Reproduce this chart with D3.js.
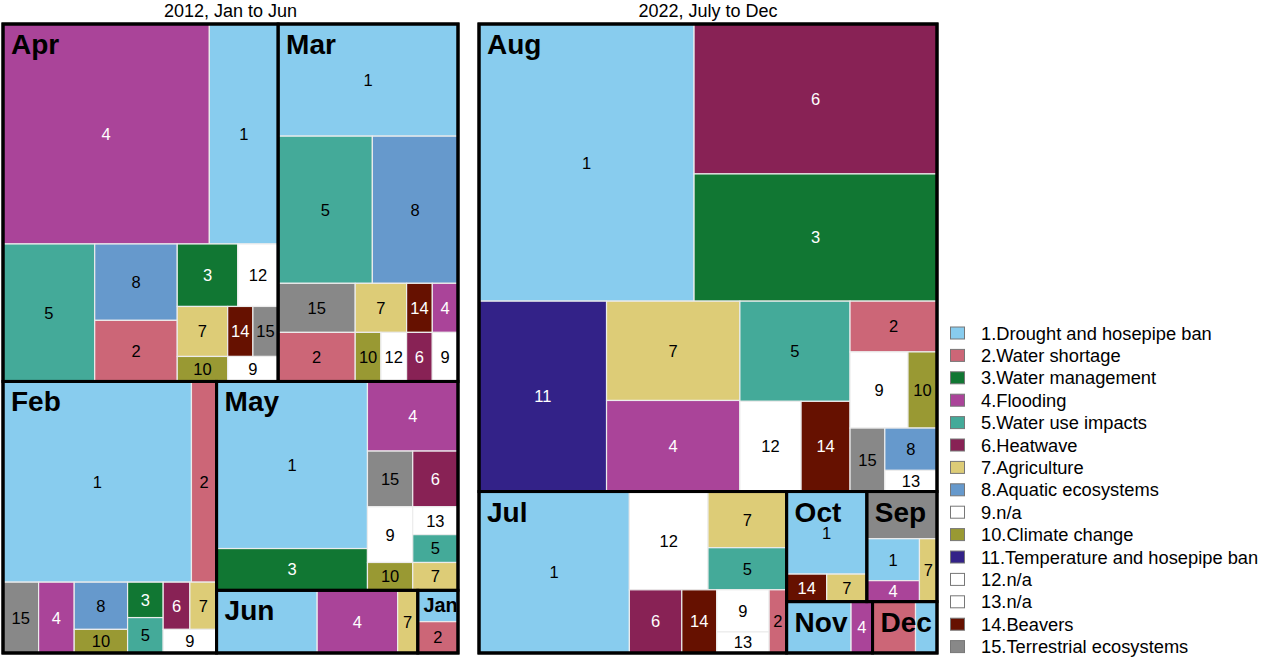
<!DOCTYPE html>
<html>
<head>
<meta charset="utf-8">
<script src="https://cdn.jsdelivr.net/npm/d3@7"></script>
<style>
  body { margin: 0; background: #fff; }
  svg { font-family: "Liberation Sans", Arial, sans-serif; }
</style>
</head>
<body>
<div id="chart"></div>
<script>
const categoryNames = [
  "Drought and hosepipe ban", "Water shortage", "Water management", "Flooding",
  "Water use impacts", "Heatwave", "Agriculture", "Aquatic ecosystems", "n/a",
  "Climate change", "Temperature and hosepipe ban", "n/a", "n/a", "Beavers",
  "Terrestrial ecosystems"
];
const categoryColors = [
  "#88CCEE", "#CC6677", "#117733", "#AA4499", "#44AA99", "#882255", "#DDCC77",
  "#6699CC", "#FFFFFF", "#999933", "#332288", "#FFFFFF", "#FFFFFF", "#661100", "#888888"
];
const darkCategories = [3, 4, 6, 11, 14];
const panelTitles = ["2012, Jan to Jun", "2022, July to Dec"];

// [month, category, count]
const rows2012 = [
  ["Jan", 1, 1], ["Jan", 2, 1],
  ["Feb", 1, 30], ["Feb", 2, 4], ["Feb", 15, 2], ["Feb", 4, 2], ["Feb", 8, 2], ["Feb", 10, 1],
  ["Feb", 3, 1], ["Feb", 5, 1], ["Feb", 6, 1], ["Feb", 7, 1], ["Feb", 9, 1],
  ["Mar", 1, 16], ["Mar", 5, 11], ["Mar", 8, 10], ["Mar", 15, 3], ["Mar", 2, 3], ["Mar", 7, 2],
  ["Mar", 10, 1], ["Mar", 12, 1], ["Mar", 14, 1], ["Mar", 4, 1], ["Mar", 6, 1], ["Mar", 9, 1],
  ["Apr", 4, 36], ["Apr", 1, 12], ["Apr", 5, 10], ["Apr", 8, 5], ["Apr", 2, 4], ["Apr", 3, 3],
  ["Apr", 12, 2], ["Apr", 7, 2], ["Apr", 10, 1], ["Apr", 14, 1], ["Apr", 15, 1], ["Apr", 9, 1],
  ["May", 1, 20], ["May", 3, 5], ["May", 4, 5], ["May", 15, 2], ["May", 6, 2], ["May", 9, 2],
  ["May", 10, 1], ["May", 13, 1], ["May", 5, 1], ["May", 7, 1],
  ["Jun", 1, 5], ["Jun", 4, 4], ["Jun", 7, 1]
];
const rows2022 = [
  ["Jul", 1, 22], ["Jul", 12, 7], ["Jul", 7, 4], ["Jul", 5, 3], ["Jul", 6, 3], ["Jul", 14, 2],
  ["Jul", 9, 2], ["Jul", 13, 1], ["Jul", 2, 1],
  ["Aug", 1, 54], ["Aug", 6, 33], ["Aug", 3, 28], ["Aug", 11, 22], ["Aug", 7, 12], ["Aug", 4, 11],
  ["Aug", 5, 10], ["Aug", 12, 5], ["Aug", 14, 4], ["Aug", 2, 4], ["Aug", 9, 4], ["Aug", 10, 2],
  ["Aug", 15, 2], ["Aug", 8, 2], ["Aug", 13, 1],
  ["Sep", 15, 3], ["Sep", 1, 2], ["Sep", 4, 1], ["Sep", 7, 1],
  ["Oct", 1, 6], ["Oct", 14, 1], ["Oct", 7, 1],
  ["Nov", 1, 3], ["Nov", 4, 1],
  ["Dec", 2, 2], ["Dec", 1, 1]
];

const width = 1263, height = 658;
const panelTop = 24, panelH = 629;
const panels = [
  {title: panelTitles[0], rows: rows2012, x: 3, w: 455},
  {title: panelTitles[1], rows: rows2022, x: 479, w: 458}
];

const svg = d3.select("#chart").append("svg")
  .attr("width", width)
  .attr("height", height);

// pivot-by-size layout (largest item is the pivot, the rest split in two regions)
function pivotLayout(nodes, x0, y0, x1, y1) {
  const n = nodes.length;
  if (!n) return;
  if (n === 1) {
    Object.assign(nodes[0], {x0, y0, x1, y1});
    return;
  }
  const total = d3.sum(nodes, d => d.value);
  const w = x1 - x0, h = y1 - y0;
  const p = nodes[0], rest = nodes.slice(1);
  let best = 0, bestRatio = Infinity, acc = p.value;
  for (let k = 0; k <= rest.length; k++) {
    if (k > 0) acc += rest[k - 1].value;
    let pw, ph;
    if (w >= h) { pw = w * acc / total; ph = h * p.value / acc; }
    else { ph = h * acc / total; pw = w * p.value / acc; }
    const r = Math.max(pw / ph, ph / pw);
    if (r < bestRatio) { bestRatio = r; best = k; }
  }
  const l2 = rest.slice(0, best), l3 = rest.slice(best);
  const s = p.value + d3.sum(l2, d => d.value);
  if (w >= h) {
    const sw = w * s / total, ph = h * p.value / s;
    Object.assign(p, {x0, y0, x1: x0 + sw, y1: y0 + ph});
    pivotLayout(l2, x0, y0 + ph, x0 + sw, y1);
    pivotLayout(l3, x0 + sw, y0, x1, y1);
  } else {
    const sh = h * s / total, pw = w * p.value / s;
    Object.assign(p, {x0, y0, x1: x0 + pw, y1: y0 + sh});
    pivotLayout(l2, x0 + pw, y0, x1, y0 + sh);
    pivotLayout(l3, x0, y0 + sh, x1, y1);
  }
}
const pivotTile = (parent, x0, y0, x1, y1) => pivotLayout(parent.children, x0, y0, x1, y1);

function buildRoot(rows) {
  const grouped = d3.group(rows, d => d[0]);
  const data = {
    name: "root",
    children: Array.from(grouped, ([m, items]) => ({
      name: m,
      children: items.map(d => ({name: String(d[1]), cat: d[1], value: d[2]}))
    }))
  };
  return d3.hierarchy(data)
    .sum(d => d.value || 0)
    .sort((a, b) => b.value - a.value || (a.data.name < b.data.name ? -1 : a.data.name > b.data.name ? 1 : 0));
}

const overlaps = (a, b) => a.x0 < b.x1 && b.x0 < a.x1 && a.y0 < b.y1 && b.y0 < a.y1;

panels.forEach((p, pi) => {
  const root = buildRoot(p.rows);
  d3.treemap().size([p.w, panelH]).tile(pivotTile)(root);

  svg.append("text")
    .attr("x", p.x + p.w / 2)
    .attr("y", 16.5)
    .attr("text-anchor", "middle")
    .style("font-size", "18px")
    .text(p.title);

  const g = svg.append("g").attr("transform", `translate(${p.x},${panelTop})`);
  const months = root.children;
  const leaves = root.leaves();

  g.append("g").selectAll("rect")
    .data(leaves)
    .join("rect")
      .attr("x", d => d.x0)
      .attr("y", d => d.y0)
      .attr("width", d => d.x1 - d.x0)
      .attr("height", d => d.y1 - d.y0)
      .attr("fill", d => categoryColors[d.data.cat - 1])
      .attr("stroke", "#ececec")
      .attr("stroke-width", 1.2);

  // month clip paths so the big labels stay inside their box
  const defs = g.append("defs");
  months.forEach((m, i) => {
    defs.append("clipPath").attr("id", `clip-${pi}-${i}`)
      .append("rect")
        .attr("x", m.x0).attr("y", m.y0)
        .attr("width", m.x1 - m.x0).attr("height", m.y1 - m.y0);
  });

  const monthFs = 28;
  const monthBoxes = [];
  const mLabels = g.append("g").selectAll("text")
    .data(months)
    .join("text")
      .attr("clip-path", (d, i) => `url(#clip-${pi}-${i})`)
      .style("font-size", monthFs + "px")
      .style("font-weight", "bold")
      .text(d => d.data.name);
  // shrink a month label when it is wider than its box
  mLabels.each(function(d) {
    const tw = this.getComputedTextLength();
    const s = Math.min(1, (d.x1 - d.x0 - 6) / tw);
    const bx = d.x0 + 8 * s, by = d.y0 + 30 * s;
    d3.select(this)
      .attr("x", bx)
      .attr("y", by)
      .style("font-size", (monthFs * s) + "px");
    monthBoxes.push({x0: bx, x1: bx + tw * s, y0: by - 0.72 * monthFs * s, y1: by});
  });

  const leafFs = 16.5;
  const lbl = g.append("g").selectAll("text")
    .data(leaves)
    .join("text")
      .attr("x", d => (d.x0 + d.x1) / 2)
      .attr("y", d => (d.y0 + d.y1) / 2 + 0.36 * leafFs)
      .attr("text-anchor", "middle")
      .style("font-size", leafFs + "px")
      .attr("fill", d => darkCategories.includes(d.data.cat) ? "#fff" : "#000")
      .text(d => d.data.name);
  lbl.each(function(d) {
    const tw = this.getComputedTextLength();
    const cx = (d.x0 + d.x1) / 2, cy = (d.y0 + d.y1) / 2;
    const box = {x0: cx - tw / 2, x1: cx + tw / 2, y0: cy - 0.36 * leafFs, y1: cy + 0.36 * leafFs};
    if (monthBoxes.some(mb => overlaps(mb, box))) d3.select(this).remove();
  });

  g.append("g").selectAll("rect")
    .data(months)
    .join("rect")
      .attr("x", d => d.x0)
      .attr("y", d => d.y0)
      .attr("width", d => d.x1 - d.x0)
      .attr("height", d => d.y1 - d.y0)
      .attr("fill", "none")
      .attr("stroke", "#000")
      .attr("stroke-width", 3);

  g.append("rect")
    .attr("width", p.w)
    .attr("height", panelH)
    .attr("fill", "none")
    .attr("stroke", "#000")
    .attr("stroke-width", 3);
});

// legend
const legend = svg.append("g").attr("transform", "translate(950,333)");
const item = legend.selectAll("g")
  .data(categoryNames)
  .join("g")
    .attr("transform", (d, i) => `translate(0,${i * 22.4})`);
item.append("rect")
  .attr("x", 0.5)
  .attr("y", -6)
  .attr("width", 14)
  .attr("height", 12)
  .attr("fill", (d, i) => categoryColors[i])
  .attr("stroke", "#777")
  .attr("stroke-width", 1);
item.append("text")
  .attr("x", 31)
  .attr("y", 6.5)
  .style("font-size", "18.3px")
  .text((d, i) => `${i + 1}.${d}`);
</script>
</body>
</html>
